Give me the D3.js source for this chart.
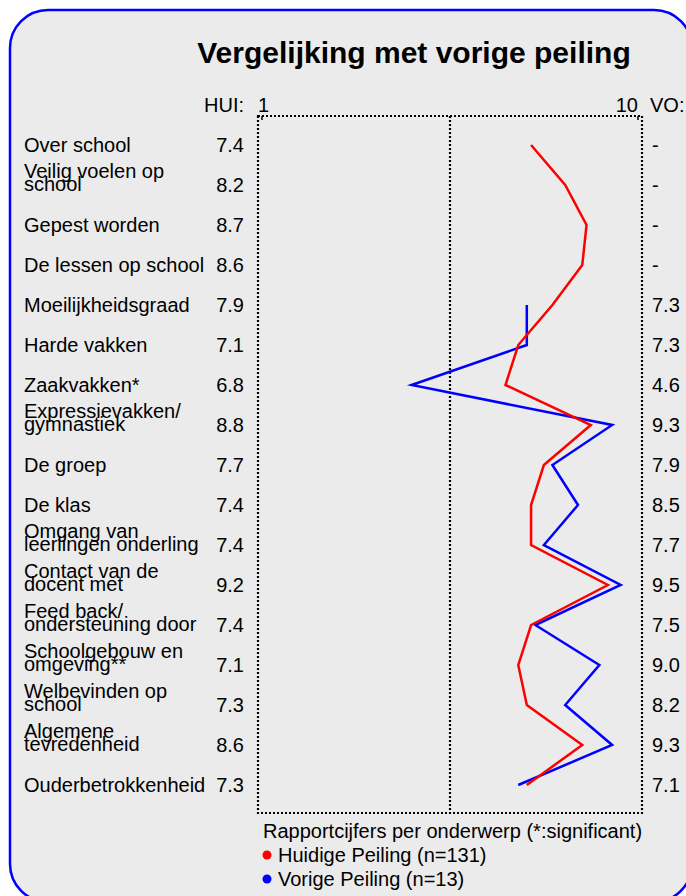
<!DOCTYPE html>
<html>
<head>
<meta charset="utf-8">
<script src="https://cdn.jsdelivr.net/npm/d3@7"></script>
<style>
  body { margin: 0; background: #fff; }
  svg text { font-family: "Liberation Sans", Arial, sans-serif; fill: #000; }
</style>
</head>
<body>
<svg id="chart" width="686" height="896"></svg>
<script>
// onderwerpen (regels per label)
var categories = [
  ["Over school"],
  ["Veilig voelen op", "school"],
  ["Gepest worden"],
  ["De lessen op school"],
  ["Moeilijkheidsgraad"],
  ["Harde vakken"],
  ["Zaakvakken*"],
  ["Expressievakken/", "gymnastiek"],
  ["De groep"],
  ["De klas"],
  ["Omgang van", "leerlingen onderling"],
  ["Contact van de", "docent met"],
  ["Feed back/", "ondersteuning door"],
  ["Schoolgebouw en", "omgeving**"],
  ["Welbevinden op", "school"],
  ["Algemene", "tevredenheid"],
  ["Ouderbetrokkenheid"]
];

var huidige = [7.4, 8.2, 8.7, 8.6, 7.9, 7.1, 6.8, 8.8, 7.7, 7.4, 7.4, 9.2, 7.4, 7.1, 7.3, 8.6, 7.3];
var vorige  = [null, null, null, null, 7.3, 7.3, 4.6, 9.3, 7.9, 8.5, 7.7, 9.5, 7.5, 9.0, 8.2, 9.3, 7.1];

var xDomain = [1, 10];
var legendItems = ["Huidige Peiling (n=131)", "Vorige Peiling (n=13)"];
var legendColors = ["#ff0000", "#0000ff"];

var svg = d3.select("#chart");

// frame
svg.append("rect")
  .attr("x", 10).attr("y", 10)
  .attr("width", 682).attr("height", 892)
  .attr("rx", 38).attr("ry", 38)
  .attr("fill", "#ebebeb")
  .attr("stroke", "#0000ff")
  .attr("stroke-width", 2.5);

svg.append("text")
  .attr("x", 414).attr("y", 63)
  .attr("text-anchor", "middle")
  .style("font-size", "30px")
  .style("font-weight", "bold")
  .text("Vergelijking met vorige peiling");

var pLeft = 258, pRight = 642, pTop = 116, pBottom = 813;

var x = d3.scaleLinear().domain(xDomain).range([pLeft, pRight]);
var y = d3.scalePoint().domain(d3.range(categories.length)).range([145, 785]);

// headers
svg.append("text").attr("x", 244).attr("y", 112).attr("text-anchor", "end")
  .style("font-size", "20px").text("HUI:");
svg.append("text").attr("x", x(1)).attr("y", 112)
  .style("font-size", "20px").text("1");
svg.append("text").attr("x", x(10) - 4).attr("y", 112).attr("text-anchor", "end")
  .style("font-size", "20px").text("10");
svg.append("text").attr("x", 650).attr("y", 112)
  .style("font-size", "20px").text("VO:");

// dotted box
var box = svg.append("g")
  .attr("stroke", "#000")
  .attr("stroke-width", 2.2)
  .attr("stroke-dasharray", "2,2")
  .attr("fill", "none");
box.append("rect")
  .attr("x", pLeft).attr("y", pTop)
  .attr("width", pRight - pLeft).attr("height", pBottom - pTop);
box.append("line")
  .attr("x1", x(5.5)).attr("x2", x(5.5)).attr("y1", pTop).attr("y2", pBottom);
// small top ticks
[1, 10].forEach(function(v) {
  var tx = v === 1 ? x(v) + 4 : x(v) - 4;
  svg.append("line").attr("x1", tx).attr("x2", tx).attr("y1", pTop).attr("y2", pTop + 4)
    .attr("stroke", "#000").attr("stroke-width", 1.5);
});

// labels
var rows = svg.append("g").selectAll("g.row")
  .data(categories).enter().append("g").attr("class", "row");

rows.each(function(lines, i) {
  var g = d3.select(this);
  var cy = y(i);
  lines.forEach(function(t, j) {
    var by = lines.length === 1 ? cy + 7 : cy + 6 - (lines.length - 1 - j) * 13;
    g.append("text").attr("x", 24).attr("y", by)
      .style("font-size", "20px").text(t);
  });
  g.append("text").attr("x", 244).attr("y", cy + 7).attr("text-anchor", "end")
    .style("font-size", "20px").text(huidige[i].toFixed(1));
  g.append("text").attr("x", 652).attr("y", cy + 7)
    .style("font-size", "20px").text(vorige[i] == null ? "-" : vorige[i].toFixed(1));
});

// lines
var line = d3.line()
  .defined(function(d) { return d != null; })
  .x(function(d) { return x(d); })
  .y(function(d, i) { return y(i); });

svg.append("path").datum(vorige)
  .attr("d", line)
  .attr("fill", "none").attr("stroke", "#0000ff").attr("stroke-width", 2.5);

svg.append("path").datum(huidige)
  .attr("d", line)
  .attr("fill", "none").attr("stroke", "#ff0000").attr("stroke-width", 2.5);

// footer + legend
svg.append("text").attr("x", 263).attr("y", 838)
  .style("font-size", "20px").text("Rapportcijfers per onderwerp (*:significant)");

var leg = svg.append("g").selectAll("g").data(legendItems).enter().append("g");
leg.append("circle")
  .attr("cx", 267).attr("cy", function(d, i) { return 855 + i * 24; })
  .attr("r", 4.5)
  .attr("fill", function(d, i) { return legendColors[i]; });
leg.append("text")
  .attr("x", 278).attr("y", function(d, i) { return 862 + i * 24; })
  .style("font-size", "20px").text(function(d) { return d; });
</script>
</body>
</html>
